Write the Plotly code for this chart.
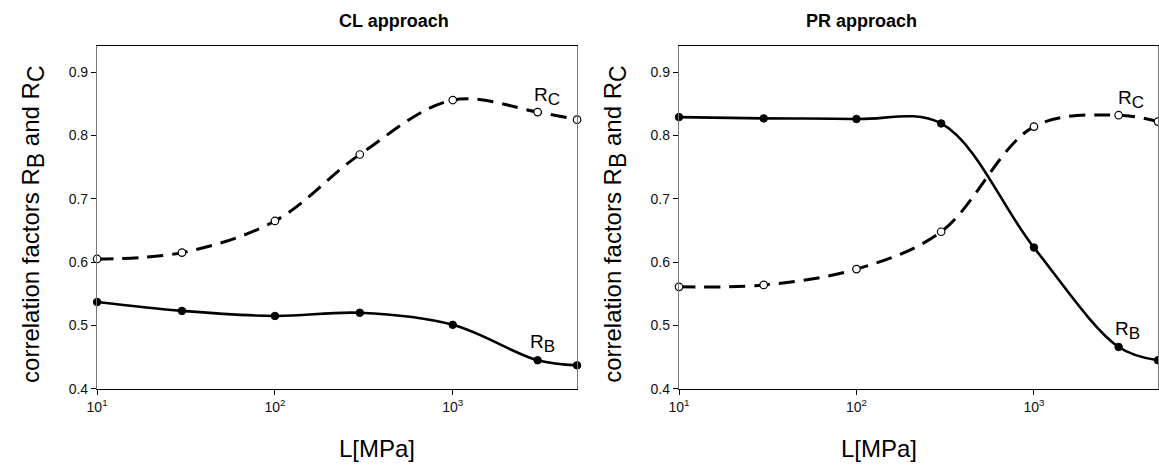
import numpy as np
import plotly.graph_objects as go

# ---- data ----
L_mpa = [10, 30, 100, 300, 1000, 3000, 5000]

cl_rb = [0.537, 0.523, 0.515, 0.520, 0.501, 0.445, 0.437]
cl_rc = [0.605, 0.615, 0.665, 0.770, 0.856, 0.837, 0.825]

pr_rb = [0.829, 0.827, 0.826, 0.819, 0.623, 0.466, 0.445]
pr_rc = [0.561, 0.564, 0.589, 0.648, 0.814, 0.832, 0.822]

panel_titles = ["CL approach", "PR approach"]
x_title = "L[MPa]"
x_tickvals = [10, 100, 1000]
x_ticktext = ["10<sup>1</sup>", "10<sup>2</sup>", "10<sup>3</sup>"]
y_tickvals = [0.4, 0.5, 0.6, 0.7, 0.8, 0.9]
y_ticktext = ["0.4", "0.5", "0.6", "0.7", "0.8", "0.9"]

# curve labels (data coords)
cl_labels = [("C", 3370, 0.862), ("B", 3200, 0.471)]
pr_labels = [("C", 3500, 0.857), ("B", 3350, 0.492)]

FONT = "Liberation Sans, Arial, sans-serif"
W, H = 1159, 471


def rsub(letter, size):
    return "R<sub><span style='font-size:%dpx'>%s</span></sub>" % (size, letter)


y_title = "correlation factors " + rsub("B", 23) + " and " + rsub("C", 23)

fig = go.Figure()

panels = [
    (cl_rb, cl_rc, cl_labels, "x", "y"),
    (pr_rb, pr_rc, pr_labels, "x2", "y2"),
]

for rb, rc, labels, xa, ya in panels:
    fig.add_trace(go.Scatter(
        x=L_mpa, y=rc, xaxis=xa, yaxis=ya, mode="lines",
        line=dict(color="black", width=3, dash="16px,9px", shape="spline", smoothing=1.0),
        showlegend=False, hoverinfo="skip"))
    fig.add_trace(go.Scatter(
        x=L_mpa, y=rb, xaxis=xa, yaxis=ya, mode="lines",
        line=dict(color="black", width=2.6, shape="spline", smoothing=1.0),
        showlegend=False, hoverinfo="skip"))
    fig.add_trace(go.Scatter(
        x=L_mpa, y=rc, xaxis=xa, yaxis=ya, mode="markers",
        marker=dict(symbol="circle", size=7.5, color="white", line=dict(color="black", width=1.2)),
        showlegend=False, cliponaxis=False))
    fig.add_trace(go.Scatter(
        x=L_mpa, y=rb, xaxis=xa, yaxis=ya, mode="markers",
        marker=dict(symbol="circle", size=7.5, color="black", line=dict(color="black", width=1)),
        showlegend=False, cliponaxis=False))
    for letter, lx, ly in labels:
        fig.add_annotation(x=np.log10(lx), y=ly, xref=xa, yref=ya, text=rsub(letter, 17),
                           showarrow=False, font=dict(family=FONT, size=19, color="black"))

left_dom = [87.0 / W, 572.0 / W]
right_dom = [675.0 / W, 1.0]
y_dom = [(H - 395.5) / H, (H - 47.0) / H]

common_x = dict(type="log", range=[1, np.log10(5000)], tickvals=x_tickvals, ticktext=x_ticktext,
                ticks="outside", ticklen=5, tickcolor="black", showgrid=False, zeroline=False,
                showline=True, linecolor="black", linewidth=1.3, mirror=True,
                tickfont=dict(family=FONT, size=14, color="#111"))
common_y = dict(range=[0.4, 0.941], tickvals=y_tickvals, ticktext=y_ticktext,
                ticks="outside", ticklen=5, tickcolor="black", showgrid=False, zeroline=False,
                showline=True, linecolor="#777", linewidth=1.3, mirror=True,
                tickfont=dict(family=FONT, size=14, color="#111"))

fig.update_layout(
    width=W, height=H,
    margin=dict(l=0, r=0, t=0, b=0),
    paper_bgcolor="white", plot_bgcolor="white",
    xaxis=dict(domain=left_dom, anchor="y", **common_x),
    yaxis=dict(domain=y_dom, anchor="x", **common_y),
    xaxis2=dict(domain=right_dom, anchor="y2", **common_x),
    yaxis2=dict(domain=y_dom, anchor="x2", **common_y),
)

panel_doms = [left_dom, [675.0 / W, 1159.5 / W]]
for t, dom in zip(panel_titles, panel_doms):
    cx = (dom[0] + dom[1]) / 2
    fig.add_annotation(x=cx, y=(H - 21) / H, xref="paper", yref="paper",
                       text="<b>" + t + "</b>", showarrow=False, yanchor="middle",
                       font=dict(family=FONT, size=18, color="black"))
    fig.add_annotation(x=cx, y=(H - 456) / H, xref="paper", yref="paper",
                       text=x_title, showarrow=False, yanchor="middle",
                       font=dict(family=FONT, size=24, color="black"))
    fig.add_annotation(x=(dom[0] * W - 65) / W, y=(H - 228) / H, xref="paper", yref="paper",
                       text=y_title, showarrow=False, textangle=-90, xanchor="center",
                       yanchor="middle", font=dict(family=FONT, size=24, color="black"))

fig.write_html("out.html")
